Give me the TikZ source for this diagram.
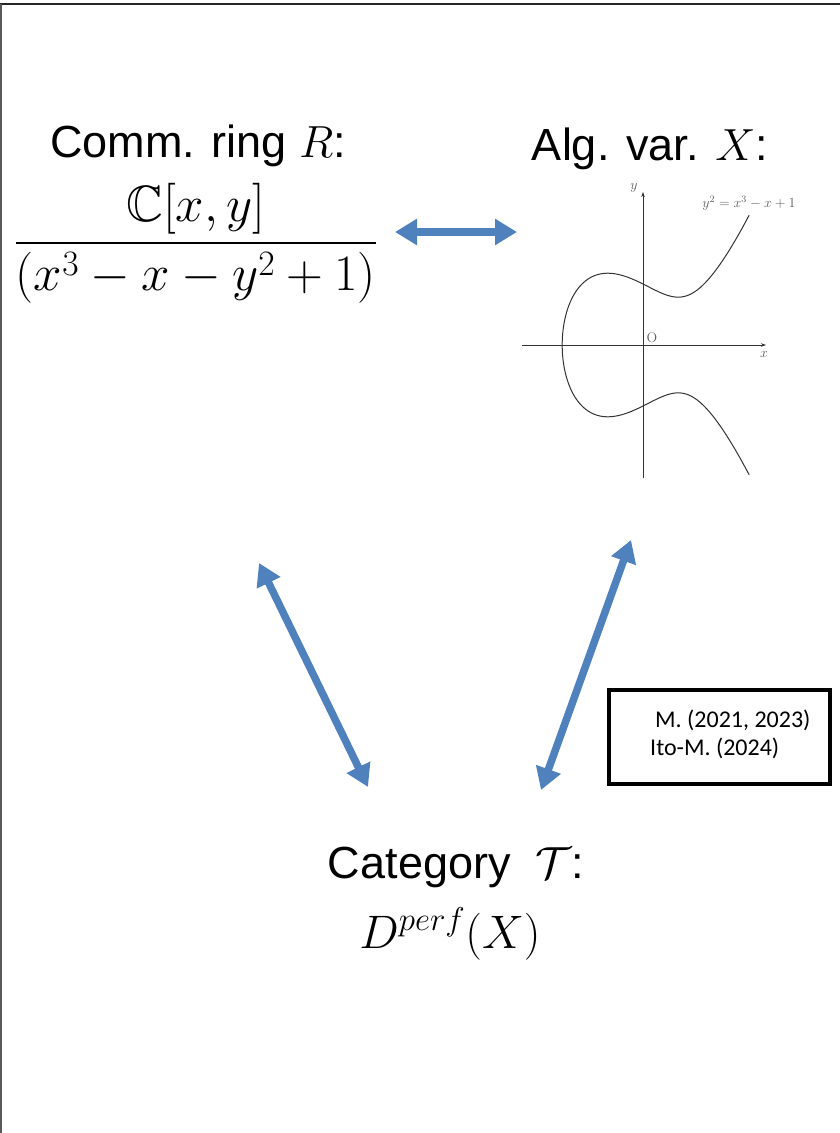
\RequirePackage{fix-cm}
\documentclass[tikz,border=0pt]{standalone}
\usepackage{amsmath,amssymb}
\usepackage{fontspec}
\setmainfont{Liberation Sans}
\newfontfamily\boxfont{Carlito}
\newfontfamily\serifO{Latin Modern Roman}
\usetikzlibrary{arrows.meta}
\definecolor{arrowblue}{HTML}{4F81BD}
\definecolor{plotgray}{HTML}{333333}
\begin{document}
\begin{tikzpicture}[x=1pt,y=-1pt,
  txt/.style={font=\fontsize{45}{54}\selectfont, anchor=base, inner sep=0pt},
  mathtxt/.style={font=\fontsize{47}{54}\selectfont, anchor=base, inner sep=0pt},
  bluearrow/.style={draw=arrowblue, line width=7.5pt,
    {Triangle[length=22pt,width=25pt]}-{Triangle[length=22pt,width=25pt]}},
  axis/.style={draw=plotgray, line width=0.8pt, -{Stealth[length=5pt,width=3.5pt]}},
  curve/.style={draw=plotgray, line width=1pt},
  plotlbl/.style={text=plotgray!80, font=\fontsize{14}{16}\selectfont, inner sep=0pt},
  reftxt/.style={font=\boxfont\fontsize{24}{28}\selectfont, anchor=base west, inner sep=0pt}]
\useasboundingbox (0,0) rectangle (840,1133);
% frame lines
\draw[line width=2pt, draw=black!85] (0,4) -- (840,4);
\draw[line width=2pt, draw=black!65] (1,4) -- (1,1133);

% ring
\node[txt] (ringtitle) at (198,157) {Comm. ring $R$:};
\node[inner sep=0pt, font=\fontsize{51}{58}\selectfont] (ring) at (196,243)
  {$\dfrac{\mathbb{C}[x,y]}{(x^3-x-y^2+1)}$};

% variety
\node[txt] (vartitle) at (650,160) {Alg. var. $X$:};
\coordinate (O) at (643,345);
\coordinate (xa0) at (522,345);
\coordinate (xa1) at (766,345);
\coordinate (ya0) at (643,478);
\coordinate (ya1) at (643,192);
\draw[axis] (xa0) -- (xa1);
\draw[axis] (ya0) -- (ya1);
\begin{scope}[shift={(O)}, x=61pt, y=61pt]
\draw[curve] plot[domain=-1.7506:1.7506, samples=200, variable=\t, smooth]
  ({-1.3247+(\t)*(\t)}, {(\t)*sqrt((-1.3247+(\t)*(\t))^2 - 1.3247*(-1.3247+(\t)*(\t)) + 0.7548)});
\end{scope}
\node[plotlbl] (ylbl) at (634,188) {$y$};
\node[plotlbl] (eqlbl) at (749,203) {$y^2=x^3-x+1$};
\node[plotlbl, font=\serifO\fontsize{14}{16}\selectfont] (olbl) at (652,338) {O};
\node[plotlbl] (xlbl) at (764,354) {$x$};

% category
\node[txt] (cattitle) at (456,878) {Category\ \ $\mathcal{T}$:};
\node[mathtxt] (cat) at (450,948) {$D^{perf}(X)$};

% references box
\node[draw, line width=4pt, minimum width=221pt, minimum height=94pt, inner sep=0pt] (refs) at (719.5,737) {};
\node[reftxt] (ref1) at (655,727) {M. (2021, 2023)};
\node[reftxt] (ref2) at (650,755) {Ito-M. (2024)};

% arrows
\coordinate (h0) at (395,232);
\coordinate (h1) at (517,232);
\coordinate (l0) at (259,563);
\coordinate (l1) at (368,787);
\coordinate (r0) at (631,540);
\coordinate (r1) at (541,790);
\draw[bluearrow] (h0) -- (h1);
\draw[bluearrow] (l0) -- (l1);
\draw[bluearrow] (r0) -- (r1);
\end{tikzpicture}
\end{document}
